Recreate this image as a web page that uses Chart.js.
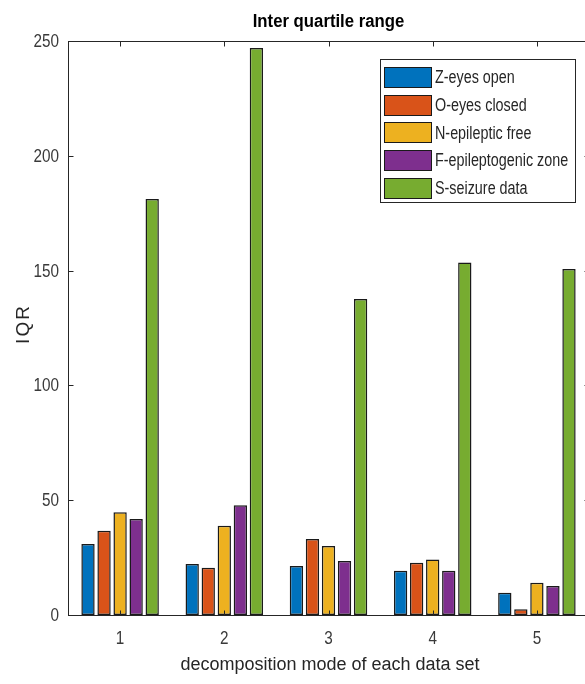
<!DOCTYPE html>
<html>
<head>
<meta charset="utf-8">
<script src="https://cdn.jsdelivr.net/npm/chart.js@4/dist/chart.umd.min.js"></script>
<style>
  html, body { margin: 0; padding: 0; background: #fff; overflow: hidden; width: 585px; height: 684px; }
  #wrap { position: relative; width: 600px; height: 684px; }
</style>
</head>
<body>
<div id="wrap"><canvas id="c" width="600" height="684"></canvas></div>
<script>
// Decomposition modes (x categories)
const modes = ['1', '2', '3', '4', '5'];
// Series names
const seriesNames = ['Z-eyes open', 'O-eyes closed', 'N-epileptic free', 'F-epileptogenic zone', 'S-seizure data'];
// Inter quartile range per mode, one array per data set
const zEyesOpen          = [30.9, 22.2, 21.3, 19.3, 9.7];
const oEyesClosed        = [36.7, 20.6, 33.1, 22.8, 2.5];
const nEpilepticFree     = [44.7, 38.9, 30.0, 24.2, 14.1];
const fEpileptogenicZone = [41.8, 47.8, 23.5, 19.3, 12.6];
const sSeizureData       = [181.2, 247.0, 137.6, 153.5, 150.7];
// Y axis tick values
const yTicks = [0, 50, 100, 150, 200, 250];

const seriesValues = [zEyesOpen, oEyesClosed, nEpilepticFree, fEpileptogenicZone, sSeizureData];
const colors = ['#0072BD', '#D95319', '#EDB120', '#7E2F8E', '#77AC30'];

const AXIS = '#262626';
const TICK = '#3a3a3a';
const SANS = '"Liberation Sans", Arial, sans-serif';

// Draws text squeezed horizontally (condensed face look)
function condensedText(ctx, text, x, y, squeeze) {
  ctx.save();
  ctx.translate(x, y);
  ctx.scale(squeeze, 1);
  ctx.fillText(text, 0, 0);
  ctx.restore();
}

// Axes box, inward tick marks, tick labels, titles and the in-plot legend
const framePlugin = {
  id: 'frame',
  afterDraw(chart) {
    const ctx = chart.ctx;
    const { left, right, top, bottom } = chart.chartArea;
    const xs = chart.scales.x, ys = chart.scales.y;
    ctx.save();
    ctx.strokeStyle = AXIS;
    ctx.lineWidth = 1;
    const L = Math.round(left) + 0.5, R = Math.round(right) + 0.5;
    const T = Math.round(top) + 0.5, B = Math.round(bottom) + 0.5;
    ctx.strokeRect(L, T, R - L, B - T);
    const tl = 5;
    ctx.beginPath();
    ys.ticks.forEach(t => {
      const y = Math.round(ys.getPixelForValue(t.value)) + 0.5;
      ctx.moveTo(L, y); ctx.lineTo(L + tl, y);
      ctx.moveTo(R, y); ctx.lineTo(R - tl, y);
    });
    xs.ticks.forEach((t, i) => {
      const x = Math.round(xs.getPixelForTick(i)) + 0.5;
      ctx.moveTo(x, B); ctx.lineTo(x, B - tl);
      ctx.moveTo(x, T); ctx.lineTo(x, T + tl);
    });
    ctx.stroke();

    // Tick labels
    ctx.fillStyle = TICK;
    ctx.font = '18px ' + SANS;
    ctx.textBaseline = 'middle';
    ctx.textAlign = 'right';
    ys.ticks.forEach(t => {
      condensedText(ctx, String(t.value), 59, ys.getPixelForValue(t.value) + 1, 0.85);
    });
    ctx.textAlign = 'center';
    xs.ticks.forEach((t, i) => {
      condensedText(ctx, xs.getLabelForValue(t.value), xs.getPixelForTick(i), 639, 0.85);
    });

    // Titles
    ctx.fillStyle = '#000';
    ctx.font = 'bold 18px ' + SANS;
    condensedText(ctx, 'Inter quartile range', (left + right) / 2, 22, 0.93);

    ctx.fillStyle = AXIS;
    ctx.font = '18px ' + SANS;
    ctx.fillText('decomposition mode of each data set', 330, 665);

    ctx.save();
    ctx.translate(24, 325);
    ctx.rotate(-Math.PI / 2);
    ctx.font = '19px ' + SANS;
    if ('letterSpacing' in ctx) ctx.letterSpacing = '2px';
    ctx.fillText('IQR', 1, 0);
    ctx.restore();

    // Legend
    const bx = 380.5, by = 59.5, bw = 195, bh = 143;
    ctx.fillStyle = '#fff';
    ctx.fillRect(bx, by, bw, bh);
    ctx.strokeStyle = AXIS;
    ctx.strokeRect(bx, by, bw, bh);
    ctx.textAlign = 'left';
    ctx.font = '17.5px ' + SANS;
    chart.data.datasets.forEach((ds, i) => {
      const cy = 77.5 + i * 27.7;
      const sy = Math.round(cy - 10.5);
      ctx.fillStyle = ds.backgroundColor;
      ctx.fillRect(384, sy, 48, 21);
      ctx.strokeStyle = '#1a1a1a';
      ctx.strokeRect(384.5, sy + 0.5, 47, 20);
      ctx.fillStyle = AXIS;
      condensedText(ctx, ds.label, 435, cy + 1, 0.82);
    });
    ctx.restore();
  }
};

new Chart(document.getElementById('c'), {
  type: 'bar',
  data: {
    labels: modes,
    datasets: seriesNames.map((name, i) => ({
      label: name,
      data: seriesValues[i],
      backgroundColor: colors[i],
      borderColor: '#1a1a1a',
      borderWidth: 1.5,
      borderSkipped: false,
      categoryPercentage: 0.77,
      barPercentage: 0.83
    }))
  },
  options: {
    responsive: false,
    devicePixelRatio: 1,
    animation: false,
    layout: { padding: { top: 41, right: 11, left: 0, bottom: 0 } },
    plugins: { legend: { display: false }, title: { display: false }, tooltip: { enabled: false } },
    scales: {
      x: {
        type: 'category',
        offset: true,
        grid: { display: false, drawTicks: false },
        border: { display: false },
        ticks: { display: false },
        afterFit(s) { s.height = 69; }
      },
      y: {
        min: 0,
        max: 250,
        grid: { display: false, drawTicks: false },
        border: { display: false },
        afterBuildTicks(s) { s.ticks = yTicks.map(v => ({ value: v })); },
        ticks: { display: false },
        afterFit(s) { s.width = 68; }
      }
    }
  },
  plugins: [framePlugin]
});
</script>
</body>
</html>
